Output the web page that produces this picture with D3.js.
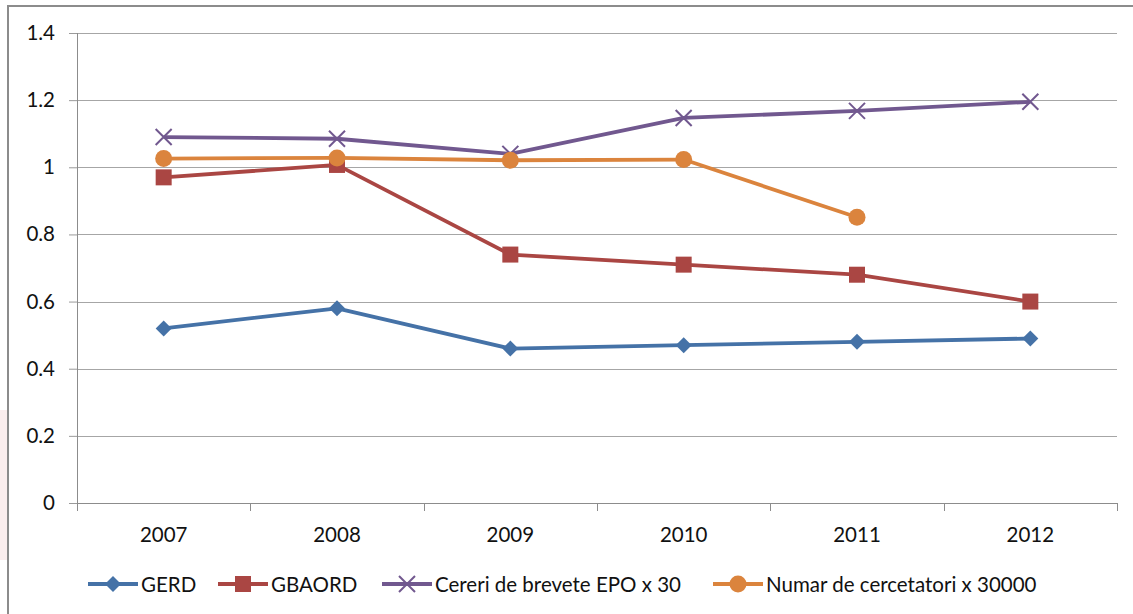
<!DOCTYPE html>
<html>
<head>
<meta charset="utf-8">
<script src="https://cdn.jsdelivr.net/npm/d3@7"></script>
<style>
  body { margin: 0; background: #fff; }
  svg { display: block; font-family: Lato, "Open Sans", sans-serif; }
</style>
</head>
<body>
<script>
// data
const years = ["2007", "2008", "2009", "2010", "2011", "2012"];
const gerd = [0.52, 0.58, 0.46, 0.47, 0.48, 0.49];
const gbaord = [0.97, 1.007, 0.74, 0.71, 0.68, 0.60];
const cereri = [1.09, 1.085, 1.04, 1.147, 1.168, 1.195];
const numar = [1.026, 1.028, 1.021, 1.023, 0.851, null];
const yTicks = [0, 0.2, 0.4, 0.6, 0.8, 1, 1.2, 1.4];

const series = [
  { name: "GERD", values: gerd, color: "#4572A7", marker: "diamond" },
  { name: "GBAORD", values: gbaord, color: "#AA4643", marker: "square" },
  { name: "Cereri de brevete EPO x 30", values: cereri, color: "#71588F", marker: "cross" },
  { name: "Numar de cercetatori x 30000", values: numar, color: "#DB843D", marker: "circle" }
];

const W = 1133, H = 614;
const plot = { left: 77, right: 1117, top: 33, bottom: 503 };
const fontSize = 20.5;

const svg = d3.select("body").append("svg")
  .attr("width", W).attr("height", H);

// faint pink strip on the far left and the outer frame
svg.append("rect").attr("x", 0).attr("y", 410).attr("width", 7).attr("height", 150)
  .attr("fill", "#fbeeee");
svg.append("rect").attr("x", 8).attr("y", 6).attr("width", W + 10).attr("height", H + 10)
  .attr("fill", "none").attr("stroke", "#8c8c8c").attr("stroke-width", 2);

const x = d3.scaleBand().domain(years).range([plot.left, plot.right]);
const y = d3.scaleLinear().domain([0, 1.4]).range([plot.bottom, plot.top]);

// y axis labels + tick marks
const yAxis = svg.append("g")
  .attr("transform", "translate(" + plot.left + ",0)")
  .call(d3.axisLeft(y).tickValues(yTicks).tickFormat(d => d3.format("")(+d.toFixed(1)))
    .tickSize(8).tickPadding(14));
yAxis.select(".domain").remove();
yAxis.selectAll(".tick line").attr("stroke", "#9a9a9a");
yAxis.selectAll(".tick text").attr("font-size", fontSize).attr("fill", "#111")
  .attr("font-family", "Lato, sans-serif");

// gridlines
svg.append("g").selectAll("line").data(yTicks).join("line")
  .attr("x1", plot.left).attr("x2", plot.right)
  .attr("y1", d => Math.round(y(d)) + 0.5).attr("y2", d => Math.round(y(d)) + 0.5)
  .attr("stroke", d => d === 0 ? "#8c8c8c" : "#a6a6a6").attr("stroke-width", 1);

svg.append("line")
  .attr("x1", plot.left + 0.5).attr("x2", plot.left + 0.5)
  .attr("y1", plot.top).attr("y2", plot.bottom + 8)
  .attr("stroke", "#8c8c8c");

// x axis: ticks at category boundaries
const bounds = years.map(d => x(d)).concat([plot.right]);
svg.append("g").selectAll("line").data(bounds.slice(1)).join("line")
  .attr("x1", d => Math.round(d) + 0.5).attr("x2", d => Math.round(d) + 0.5)
  .attr("y1", plot.bottom).attr("y2", plot.bottom + 8)
  .attr("stroke", "#8c8c8c");

svg.append("g").selectAll("text").data(years).join("text")
  .attr("x", d => x(d) + x.bandwidth() / 2)
  .attr("y", plot.bottom + 39)
  .attr("text-anchor", "middle")
  .attr("font-size", fontSize).attr("fill", "#111")
  .text(d => d);

// marker drawer
function drawMarker(g, type, color) {
  if (type === "diamond") {
    g.append("path").attr("d", "M0,-8L8,0L0,8L-8,0Z").attr("fill", color);
  } else if (type === "square") {
    g.append("rect").attr("x", -8).attr("y", -8).attr("width", 16).attr("height", 16).attr("fill", color);
  } else if (type === "cross") {
    g.append("path").attr("d", "M-8,-8L8,8M-8,8L8,-8")
      .attr("stroke", color).attr("stroke-width", 2).attr("fill", "none");
  } else {
    g.append("circle").attr("r", 8.5).attr("fill", color);
  }
}

const cx = d => x(d) + x.bandwidth() / 2;
const line = d3.line()
  .defined(d => d.v !== null)
  .x(d => cx(d.year)).y(d => y(d.v));

series.forEach(s => {
  const pts = years.map((yr, i) => ({ year: yr, v: s.values[i] }));
  svg.append("path").datum(pts)
    .attr("d", line)
    .attr("fill", "none").attr("stroke", s.color).attr("stroke-width", 3.8)
    .attr("stroke-linejoin", "round");
  pts.filter(p => p.v !== null).forEach(p => {
    const g = svg.append("g").attr("transform", "translate(" + cx(p.year) + "," + y(p.v) + ")");
    drawMarker(g, s.marker, s.color);
  });
});

// legend
const legendX = [88, 218, 382, 713];
series.forEach((s, i) => {
  const g = svg.append("g").attr("transform", "translate(" + legendX[i] + ",584)");
  g.append("line").attr("x1", 0).attr("x2", 50).attr("y1", 0).attr("y2", 0)
    .attr("stroke", s.color).attr("stroke-width", 3.8);
  const m = g.append("g").attr("transform", "translate(25,0)");
  drawMarker(m, s.marker, s.color);
  g.append("text").attr("x", 53).attr("y", 7.5)
    .attr("font-size", fontSize).attr("fill", "#111")
    .text(s.name);
});
</script>
</body>
</html>
